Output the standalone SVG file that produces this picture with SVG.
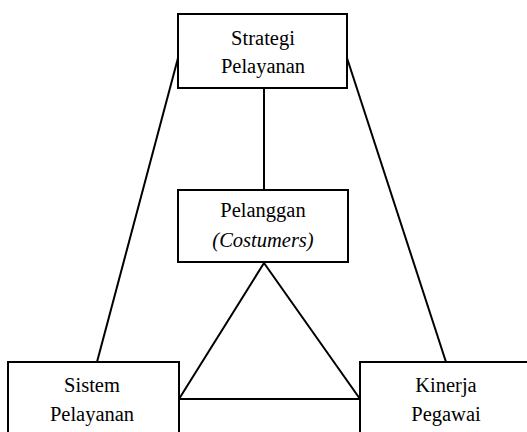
<svg xmlns="http://www.w3.org/2000/svg" width="527" height="432" viewBox="0 0 527 432">
<style>
.box{fill:#fff;stroke:#000;stroke-width:2}
.ln{fill:none;stroke:#000;stroke-width:2}
text{font-family:"Liberation Serif","Times New Roman",serif;font-size:20.5px;fill:#000;text-anchor:middle}
.it{font-style:italic}
</style>
<rect width="527" height="432" fill="#fff"/>
<g id="connectors">
<line class="ln" x1="264" y1="88" x2="264" y2="190"/>
<line class="ln" x1="178" y1="58" x2="97" y2="362"/>
<line class="ln" x1="347" y1="58" x2="446" y2="362"/>
<polygon class="ln" points="264,263 179,399 360,399"/>
<line class="ln" x1="179" y1="399" x2="360" y2="399"/>
</g>
<g id="strategi">
<rect class="box" x="178" y="14" width="169" height="74"/>
<text x="263" y="45">Strategi</text>
<text x="263" y="73">Pelayanan</text>
</g>
<g id="pelanggan">
<rect class="box" x="178" y="190" width="170" height="72"/>
<text x="263" y="217">Pelanggan</text>
<text x="263" y="247" class="it">(Costumers)</text>
</g>
<g id="sistem">
<rect class="box" x="8" y="362" width="171" height="80"/>
<text x="92" y="392">Sistem</text>
<text x="92" y="421">Pelayanan</text>
</g>
<g id="kinerja">
<rect class="box" x="360" y="362" width="172" height="80"/>
<text x="446" y="392">Kinerja</text>
<text x="446" y="421">Pegawai</text>
</g>
</svg>
